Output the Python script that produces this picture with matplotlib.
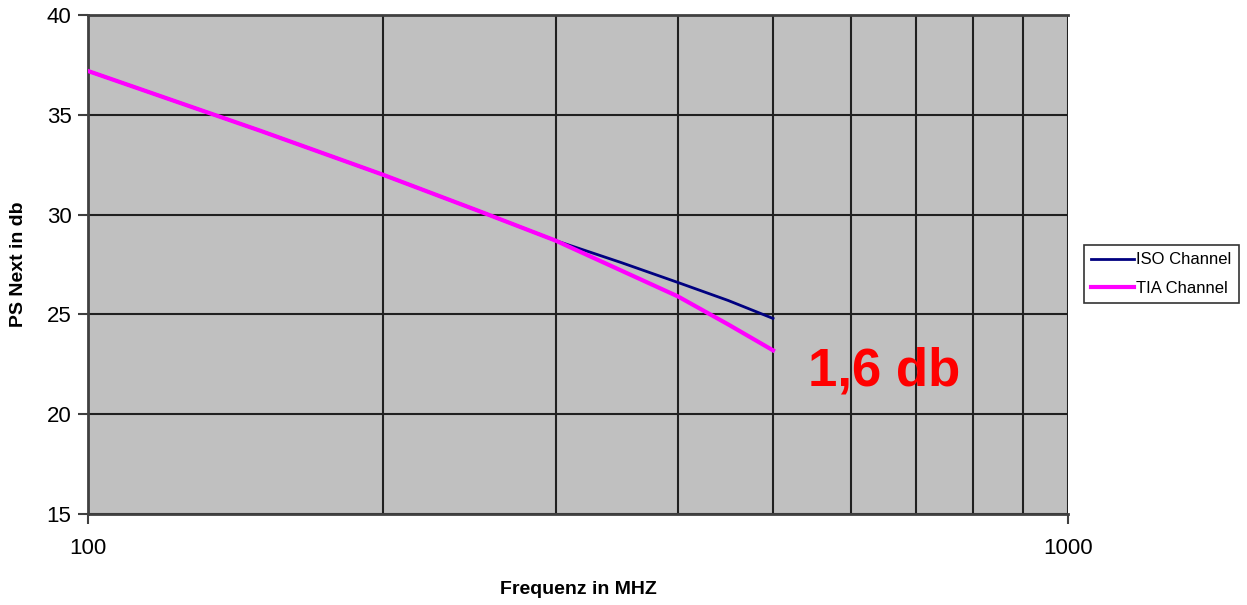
import numpy as np
import matplotlib.pyplot as plt
from matplotlib.ticker import FixedLocator, NullFormatter

plt.rcParams['font.family'] = ['Liberation Sans', 'DejaVu Sans']

freq = [100, 150, 200, 250, 300, 350, 400, 450, 500]
iso_channel = [37.2, 34.2, 32.0, 30.2, 28.7, 27.6, 26.6, 25.7, 24.8]
tia_channel = [37.2, 34.2, 32.0, 30.2, 28.7, 27.2, 25.9, 24.5, 23.2]
y_ticks = [15, 20, 25, 30, 35, 40]
minor_freqs = [200, 300, 400, 500, 600, 700, 800, 900]

fig = plt.figure(figsize=(12.47, 6.05), dpi=100)
ax = fig.add_axes([0.0706, 0.1504, 0.7859, 0.8246])
ax.set_facecolor('#c0c0c0')

ax.plot(freq, iso_channel, color='#000080', lw=2, label='ISO Channel', zorder=3)
ax.plot(freq, tia_channel, color='#ff00ff', lw=3, label='TIA Channel', zorder=3)

ax.set_xscale('log')
ax.set_xlim(100, 1000)
ax.set_ylim(15, 40)
ax.xaxis.set_major_locator(FixedLocator([100, 1000]))
ax.xaxis.set_major_formatter(plt.FixedFormatter(['100', '1000']))
ax.xaxis.set_minor_locator(FixedLocator(minor_freqs))
ax.xaxis.set_minor_formatter(NullFormatter())
ax.set_yticks(y_ticks)

ax.grid(True, which='both', axis='x', color='#202020', lw=1.5)
ax.grid(True, which='major', axis='y', color='#202020', lw=1.5)
ax.set_axisbelow(True)

ax.tick_params(axis='both', which='major', labelsize=16, length=7, width=1.5, color='#404040')
ax.tick_params(axis='x', which='major', pad=10)
ax.tick_params(axis='x', which='minor', length=0)
ax.tick_params(axis='y', pad=5)

for side in ['left', 'bottom', 'top']:
    ax.spines[side].set_color('#404040')
    ax.spines[side].set_linewidth(2)
ax.spines['right'].set_visible(False)

ax.set_xlabel('Frequenz in MHZ', fontsize=14, fontweight='bold', labelpad=16)
ax.set_ylabel('PS Next in db', fontsize=14, fontweight='bold', labelpad=14)

ax.text(0.735, 0.285, '1,6 db', transform=ax.transAxes, color='#ff0000',
        fontsize=38, fontweight='bold', va='center', ha='left', zorder=4)

leg = fig.legend(loc='center left', bbox_to_anchor=(0.869, 0.547), fontsize=12,
                 frameon=True, fancybox=False, edgecolor='black', handlelength=2.6,
                 handletextpad=0.1, borderpad=0.45, labelspacing=0.8, borderaxespad=0)
leg.get_frame().set_linewidth(1.2)

fig.savefig('out.png', dpi=100)
